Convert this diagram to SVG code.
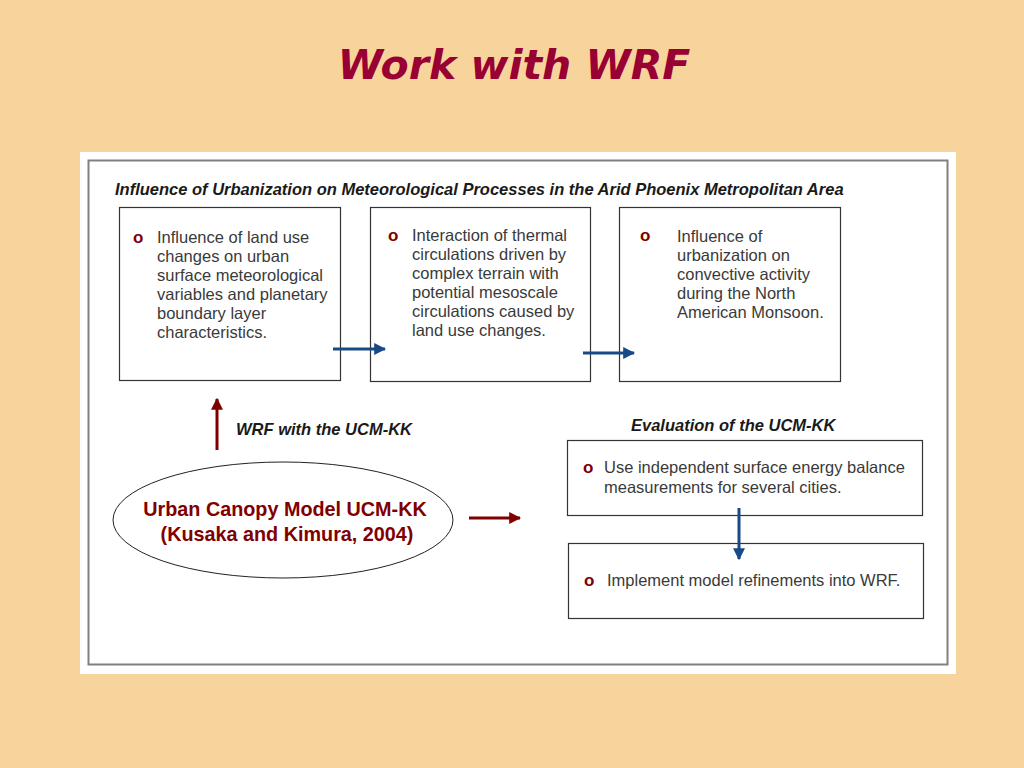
<svg xmlns="http://www.w3.org/2000/svg" width="1024" height="768" viewBox="0 0 1024 768">
<defs>
<style>
.box{fill:#fff;stroke:#333;stroke-width:1.2}
.t{font-family:"Liberation Sans",Arial,sans-serif;font-size:16.5px;fill:#3a3a3a}
.b{font-family:"Liberation Sans",Arial,sans-serif;font-size:17px;font-weight:bold;fill:#800000}
.h{font-family:"Liberation Sans",Arial,sans-serif;font-size:16.5px;font-weight:bold;font-style:italic;fill:#1a1a1a}
.blue{stroke:#174a86;stroke-width:3;fill:none}
.red{stroke:#800000;stroke-width:3;fill:none}
</style>
<marker id="ab" viewBox="0 0 10 10" refX="9" refY="5" markerWidth="4" markerHeight="4" markerUnits="strokeWidth" orient="auto"><path d="M0,0 L10,5 L0,10 z" fill="#174a86"/></marker>
<marker id="ar" viewBox="0 0 10 10" refX="9" refY="5" markerWidth="4" markerHeight="4" markerUnits="strokeWidth" orient="auto"><path d="M0,0 L10,5 L0,10 z" fill="#800000"/></marker>
</defs>
<rect width="1024" height="768" fill="#F7D49B"/>
<text x="514" y="79" text-anchor="middle" font-family="'DejaVu Sans',Verdana,sans-serif" font-size="41" font-weight="bold" font-style="italic" fill="#990033">Work with WRF</text>
<rect x="80" y="152" width="876" height="522" fill="#fff"/>
<rect x="88.5" y="160.5" width="859" height="504" fill="none" stroke="#808080" stroke-width="2"/>
<text class="h" x="115" y="195" font-size="16.4">Influence of Urbanization on Meteorological Processes in the Arid Phoenix Metropolitan Area</text>

<g id="box1">
<rect class="box" x="119.5" y="207.5" width="221" height="173"/>
<text class="b" x="133" y="243">o</text>
<text class="t" x="157" y="243">Influence of land use</text>
<text class="t" x="157" y="262">changes on urban</text>
<text class="t" x="157" y="281">surface meteorological</text>
<text class="t" x="157" y="300">variables and planetary</text>
<text class="t" x="157" y="319">boundary layer</text>
<text class="t" x="157" y="338">characteristics.</text>
</g>
<g id="box2">
<rect class="box" x="370.5" y="207.5" width="220" height="174"/>
<text class="b" x="388" y="241">o</text>
<text class="t" x="412" y="241">Interaction of thermal</text>
<text class="t" x="412" y="260">circulations driven by</text>
<text class="t" x="412" y="279">complex terrain with</text>
<text class="t" x="412" y="298">potential mesoscale</text>
<text class="t" x="412" y="317">circulations caused by</text>
<text class="t" x="412" y="336">land use changes.</text>
</g>
<g id="box3">
<rect class="box" x="619.5" y="207.5" width="221" height="174"/>
<text class="b" x="640" y="241">o</text>
<text class="t" x="677" y="242">Influence of</text>
<text class="t" x="677" y="261">urbanization on</text>
<text class="t" x="677" y="280">convective activity</text>
<text class="t" x="677" y="299">during the North</text>
<text class="t" x="677" y="318">American Monsoon.</text>
</g>
<g id="ucm">
<ellipse cx="283" cy="520" rx="170" ry="58" fill="#fff" stroke="#222" stroke-width="1"/>
<text x="285" y="516" text-anchor="middle" font-family="'Liberation Sans',Arial,sans-serif" font-size="19.8" font-weight="bold" fill="#800000">Urban Canopy Model UCM-KK</text>
<text x="287" y="541" text-anchor="middle" font-family="'Liberation Sans',Arial,sans-serif" font-size="19.8" font-weight="bold" fill="#800000">(Kusaka and Kimura, 2004)</text>
</g>
<text class="h" x="236" y="435">WRF with the UCM-KK</text>
<text class="h" x="631" y="431">Evaluation of the UCM-KK</text>
<g id="box4">
<rect class="box" x="567.5" y="440.5" width="355" height="75"/>
<text class="b" x="583" y="473">o</text>
<text class="t" x="604" y="473">Use independent surface energy balance</text>
<text class="t" x="604" y="493">measurements for several cities.</text>
</g>
<g id="box5">
<rect class="box" x="568.5" y="543.5" width="355" height="75"/>
<text class="b" x="584" y="586">o</text>
<text class="t" x="607" y="586">Implement model refinements into WRF.</text>
</g>
<g id="connectors">
<line class="blue" x1="333" y1="349" x2="385" y2="349" marker-end="url(#ab)"/>
<line class="blue" x1="583" y1="353" x2="634" y2="353" marker-end="url(#ab)"/>
<line class="blue" x1="739" y1="508" x2="739" y2="559" marker-end="url(#ab)"/>
<line class="red" x1="217" y1="450" x2="217" y2="399" marker-end="url(#ar)"/>
<line class="red" x1="469" y1="518" x2="520" y2="518" marker-end="url(#ar)"/>
</g>
</svg>
